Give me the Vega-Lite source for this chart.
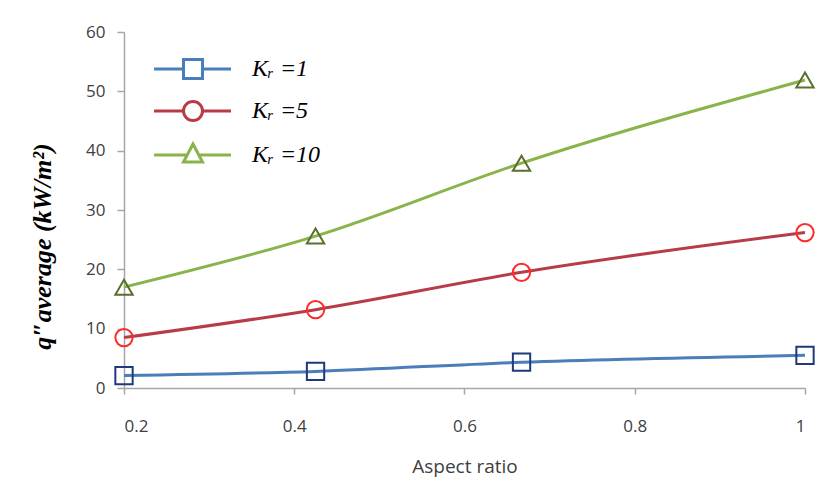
{
  "$schema": "https://vega.github.io/schema/vega-lite/v6.json",
  "width": 681,
  "height": 356,
  "autosize": {"type": "none"},
  "padding": {"left": 124, "top": 32, "right": 22, "bottom": 104},
  "background": "white",
  "config": {
    "view": {"stroke": null},
    "axis": {
      "domainColor": "#a6a6a6",
      "tickColor": "#a6a6a6",
      "domainWidth": 1.5,
      "tickWidth": 1.5,
      "grid": false,
      "labelFont": "Open Sans",
      "labelFontSize": 17,
      "labelColor": "#404040",
      "titleFont": "Open Sans",
      "titleFontWeight": "normal",
      "titleColor": "#404040"
    }
  },
  "data": {
    "values": [
      {"series": "1", "ratio": 0.2, "q": 2.1},
      {"series": "1", "ratio": 0.425, "q": 2.8},
      {"series": "1", "ratio": 0.667, "q": 4.35},
      {"series": "1", "ratio": 1.0, "q": 5.5},
      {"series": "5", "ratio": 0.2, "q": 8.5},
      {"series": "5", "ratio": 0.425, "q": 13.2},
      {"series": "5", "ratio": 0.667, "q": 19.5},
      {"series": "5", "ratio": 1.0, "q": 26.2},
      {"series": "10", "ratio": 0.2, "q": 17.0},
      {"series": "10", "ratio": 0.425, "q": 25.6},
      {"series": "10", "ratio": 0.667, "q": 37.9},
      {"series": "10", "ratio": 1.0, "q": 51.9}
    ]
  },
  "encoding": {
    "x": {
      "field": "ratio",
      "type": "quantitative",
      "scale": {"domain": [0.2, 1], "nice": false, "zero": false},
      "axis": {
        "values": [0.2, 0.4, 0.6, 0.8, 1],
        "labelExpr": "datum.value == 1 ? '1' : format(datum.value, '.1f')",
        "tickSize": 6,
        "labelPadding": 24,
        "title": "Aspect ratio",
        "titleFontSize": 19,
        "titlePadding": 23
      }
    },
    "y": {
      "field": "q",
      "type": "quantitative",
      "scale": {"domain": [0, 60], "nice": false},
      "axis": {
        "values": [0, 10, 20, 30, 40, 50, 60],
        "tickSize": 7,
        "labelPadding": 12,
        "title": "q″average (kW/m²)",
        "titleFont": "Liberation Serif",
        "titleFontStyle": "italic",
        "titleFontWeight": "bold",
        "titleFontSize": 26,
        "titleColor": "#000000",
        "titlePadding": 30,
        "titleY": 214
      }
    }
  },
  "layer": [
    {
      "mark": {"type": "line", "interpolate": "monotone", "strokeWidth": 3},
      "encoding": {
        "color": {
          "field": "series",
          "type": "nominal",
          "scale": {"domain": ["1", "5", "10"], "range": ["#4a7ebb", "#b83c48", "#8ab34a"]},
          "legend": {
            "orient": "none",
            "legendX": 57,
            "legendY": 25,
            "title": null,
            "padding": 0,
            "symbolSize": 361,
            "symbolStrokeWidth": 3,
            "labelOffset": 47,
            "labelFont": "Liberation Serif",
            "labelFontStyle": "italic",
            "labelFontSize": 24,
            "labelColor": "#000000",
            "rowPadding": 10,
            "labelExpr": "'Kᵣ =' + datum.label",
            "encode": {
              "symbols": {
                "update": {
                  "shape": {"signal": "datum.value === '1' ? 'M-4.1,0L-1,0M1,0L4,0M-1,-1L1,-1L1,1L-1,1Z' : datum.value === '5' ? 'M-4.1,0L-1,0M1,0L4,0M1,0A1,1,0,1,1,-1,0A1,1,0,1,1,1,0Z' : 'M-4.1,0L-0.61,0M0.61,0L4,0M0,-1.16L1,0.74L-1,0.74Z'"},
                  "fill": {"value": "transparent"},
                  "strokeWidth": {"value": 3}
                }
              }
            }
          }
        }
      }
    },
    {
      "transform": [{"filter": "datum.series === '1'"}],
      "mark": {"type": "point", "shape": "square", "filled": false, "stroke": "#1f3a7a", "strokeWidth": 2, "size": 300, "opacity": 1}
    },
    {
      "transform": [{"filter": "datum.series === '5'"}],
      "mark": {"type": "point", "shape": "circle", "filled": false, "stroke": "#ff2a2a", "strokeWidth": 2, "size": 300, "opacity": 1}
    },
    {
      "transform": [{"filter": "datum.series === '10'"}],
      "mark": {"type": "point", "shape": "triangle-up", "filled": false, "stroke": "#5a6e2e", "strokeWidth": 2, "size": 300, "opacity": 1}
    }
  ]
}
